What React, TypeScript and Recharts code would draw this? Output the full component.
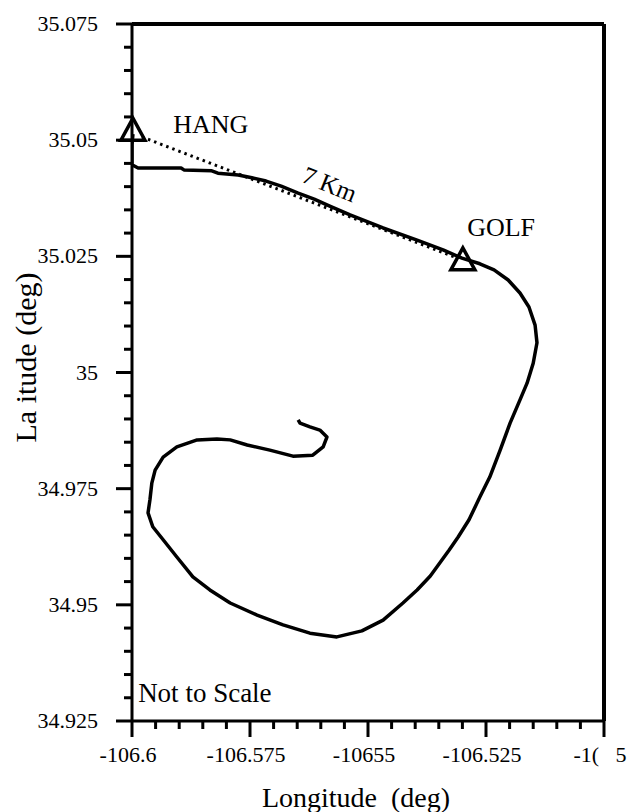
import React from "react";
import { ComposedChart, Line, XAxis, YAxis, ReferenceLine, ReferenceDot } from "recharts";

// flight track (deg)
const pathLon = [
  -106.5998, -106.6, -106.6, -106.6, -106.5987, -106.5941, -106.5896, -106.589, -106.5831, -106.5818,
  -106.5775, -106.5746, -106.5716, -106.5684, -106.5648, -106.5614, -106.5581, -106.5538, -106.5468, -106.5396,
  -106.5341, -106.5301, -106.5263, -106.5233, -106.5203, -106.5178, -106.5159, -106.5146, -106.5142, -106.515,
  -106.5163, -106.5178, -106.5199, -106.522, -106.5242, -106.5263, -106.5286, -106.5309, -106.5328, -106.5368,
  -106.5396, -106.5426, -106.5468, -106.5513, -106.5566, -106.5623, -106.568, -106.5735, -106.5792, -106.5835,
  -106.5871, -106.5905, -106.5934, -106.5956, -106.5966, -106.5962, -106.5958, -106.5951, -106.5934, -106.5905,
  -106.5862, -106.582, -106.5792, -106.5756, -106.5708, -106.5659, -106.5617, -106.5595, -106.5587, -106.5602,
  -106.5623, -106.5644, -106.5648,
];
const pathLat = [
  35.0513, 35.049, 35.0464, 35.0447, 35.044, 35.044, 35.044, 35.0436, 35.0434, 35.0429,
  35.0425, 35.0419, 35.0412, 35.0401, 35.0386, 35.0373, 35.0358, 35.0339, 35.0311, 35.0285,
  35.0264, 35.0246, 35.0234, 35.0221, 35.0199, 35.0171, 35.0141, 35.0102, 35.0064, 35.002,
  34.9977, 34.9941, 34.9891, 34.9833, 34.9775, 34.9732, 34.9683, 34.9646, 34.9618, 34.9562,
  34.9532, 34.9504, 34.9467, 34.9444, 34.9431, 34.9439, 34.9457, 34.9478, 34.9504, 34.9532,
  34.956, 34.9603, 34.964, 34.9668, 34.9698, 34.9726, 34.9762, 34.979, 34.9818, 34.984,
  34.9855, 34.9857, 34.9855, 34.9844, 34.9833, 34.982, 34.9822, 34.984, 34.9861, 34.9876,
  34.9883, 34.9891, 34.9898,
];

// straight 7 km leg HANG -> GOLF
const legLon = [-106.5979, -106.531];
const legLat = [35.0507, 35.0246];

const siteNames = ["HANG", "GOLF"];
const siteLon = [-106.5998, -106.5299];
const siteLat = [35.0515, 35.0236];
const siteLabelLon = [-106.5833, -106.5218];
const siteLabelLat = [35.0535, 35.0313];

const distLabel = "7 Km";
const distLon = -106.5581;
const distLat = 35.0406;

const noteText = "Not to Scale";
const noteLon = -106.5987;
const noteLat = 34.9312;

const xMajorTicks = [-106.6, -106.575, -106.55, -106.525, -106.5];
const xTickLabels = ["-106.6", "-106.575", "-10655", "-106.525", "-1(   5"];
const xAllTicks = [
  -106.6, -106.595, -106.59, -106.585, -106.58, -106.575, -106.57, -106.565, -106.56, -106.555, -106.55,
  -106.545, -106.54, -106.535, -106.53, -106.525, -106.52, -106.515, -106.51, -106.505, -106.5,
];
const yMajorTicks = [34.925, 34.95, 34.975, 35, 35.025, 35.05, 35.075];
const yTickLabels = ["34.925", "34.95", "34.975", "35", "35.025", "35.05", "35.075"];
const yAllTicks = [
  34.925, 34.93, 34.935, 34.94, 34.945, 34.95, 34.955, 34.96, 34.965, 34.97, 34.975, 34.98, 34.985, 34.99,
  34.995, 35, 35.005, 35.01, 35.015, 35.02, 35.025, 35.03, 35.035, 35.04, 35.045, 35.05, 35.055, 35.06,
  35.065, 35.07, 35.075,
];

const pathData = pathLon.map((lon, i) => ({ lon, lat: pathLat[i] }));
const legData = legLon.map((lon, i) => ({ lon, lat: legLat[i] }));

const FONT = '"Liberation Serif", Tinos, "Times New Roman", "DejaVu Serif", serif';
const txt = { fontFamily: FONT, fill: "#000" };

function labelFor(v: number, majors: number[], labels: string[]) {
  const i = majors.findIndex((m) => Math.abs(m - v) < 1e-9);
  return i >= 0 ? labels[i] : null;
}

const YTick = (props: any) => {
  const { x, y, payload } = props;
  const label = labelFor(payload.value, yMajorTicks, yTickLabels);
  const len = label ? 16 : 8;
  return (
    <g>
      <line x1={x} y1={y} x2={x - len} y2={y} stroke="#000" strokeWidth={3} />
      {label && (
        <text x={x - 34} y={y} dy={7} textAnchor="end" fontSize={22} style={txt}>
          {label}
        </text>
      )}
    </g>
  );
};

const XTick = (props: any) => {
  const { x, y, payload } = props;
  const label = labelFor(payload.value, xMajorTicks, xTickLabels);
  const len = label ? 16 : 8;
  return (
    <g>
      <line x1={x} y1={y} x2={x} y2={y + len} stroke="#000" strokeWidth={3} />
      {label && (
        <text x={x - 4} y={y + 41} textAnchor="middle" fontSize={22} style={{ ...txt, whiteSpace: "pre" }}>
          {label}
        </text>
      )}
    </g>
  );
};

const Triangle = (props: any) => {
  const { cx, cy } = props;
  return (
    <polygon
      points={`${cx},${cy - 15} ${cx - 12},${cy + 7} ${cx + 12},${cy + 7}`}
      fill="none"
      stroke="#000"
      strokeWidth={3.5}
    />
  );
};

const makeText = (text: string, size: number, anchor: string, angle = 0) => (props: any) => {
  const { cx, cy } = props;
  return (
    <text
      x={cx}
      y={cy}
      dy="0.35em"
      textAnchor={anchor}
      fontSize={size}
      style={txt}
      transform={angle ? `rotate(${angle} ${cx} ${cy})` : undefined}
    >
      {text}
    </text>
  );
};

export default function App() {
  return (
    <div style={{ position: "absolute", left: 0, top: 0, background: "#fff", fontFamily: FONT }}>
      <ComposedChart width={637} height={812} margin={{ top: 24, right: 33, bottom: 31, left: 0 }}>
        <XAxis
          dataKey="lon"
          type="number"
          domain={[-106.6, -106.5]}
          allowDataOverflow
          ticks={xAllTicks}
          interval={0}
          tick={<XTick />}
          tickSize={0}
          tickMargin={0}
          tickLine={false}
          axisLine={{ stroke: "#000", strokeWidth: 3 }}
          height={60}
          label={{
            content: (p: any) => (
              <text
                x={p.viewBox.x + p.viewBox.width / 2 - 12}
                y={p.viewBox.y + 86}
                textAnchor="middle"
                fontSize={28}
                style={{ ...txt, whiteSpace: "pre" }}
              >
                {"Longitude  (deg)"}
              </text>
            ),
          }}
        />
        <YAxis
          dataKey="lat"
          type="number"
          domain={[34.925, 35.075]}
          allowDataOverflow
          ticks={yAllTicks}
          interval={0}
          tick={<YTick />}
          tickSize={0}
          tickMargin={0}
          tickLine={false}
          axisLine={{ stroke: "#000", strokeWidth: 3 }}
          width={132}
          label={{
            content: (p: any) => {
              const cx = p.viewBox.x + 25;
              const cy = p.viewBox.y + p.viewBox.height / 2 - 15;
              return (
                <text
                  x={cx}
                  y={cy}
                  dy="0.35em"
                  textAnchor="middle"
                  fontSize={30}
                  style={txt}
                  transform={`rotate(-90 ${cx} ${cy})`}
                >
                  La itude (deg)
                </text>
              );
            },
          }}
        />
        <ReferenceLine y={35.075} stroke="#000" strokeWidth={4} />
        <ReferenceLine x={-106.5} stroke="#000" strokeWidth={4} />

        {siteNames.map((n, i) => (
          <ReferenceDot key={n} x={siteLon[i]} y={siteLat[i]} r={12} shape={<Triangle />} />
        ))}

        <Line
          data={legData}
          dataKey="lat"
          type="linear"
          stroke="#000"
          strokeWidth={3}
          strokeDasharray="2.5 4"
          dot={false}
          activeDot={false}
          isAnimationActive={false}
        />
        <Line
          data={pathData}
          dataKey="lat"
          type="linear"
          stroke="#000"
          strokeWidth={3.5}
          strokeLinejoin="round"
          dot={false}
          activeDot={false}
          isAnimationActive={false}
        />

        {siteNames.map((n, i) => (
          <ReferenceDot key={n + "-lbl"} x={siteLabelLon[i]} y={siteLabelLat[i]} r={1} shape={makeText(n, 26, "middle")} />
        ))}
        <ReferenceDot x={distLon} y={distLat} r={1} shape={makeText(distLabel, 25, "middle", 22)} />
        <ReferenceDot x={noteLon} y={noteLat} r={1} shape={makeText(noteText, 27, "start")} />
      </ComposedChart>
    </div>
  );
}
